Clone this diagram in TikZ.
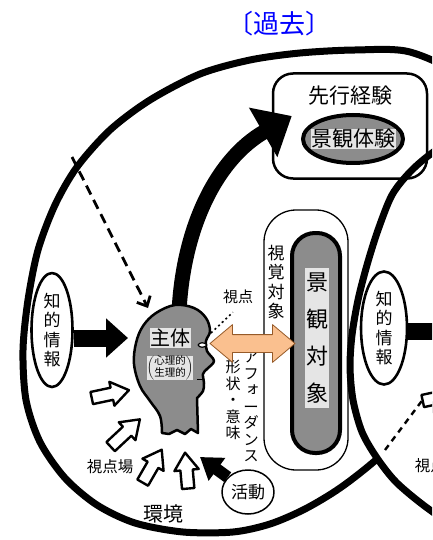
\documentclass[tikz,border=0pt]{standalone}
\usepackage{fontspec}
\setmainfont{Noto Sans CJK JP}
\newfontfamily\jpv[RawFeature=+vert]{Noto Sans CJK JP}
\usetikzlibrary{arrows.meta,shapes.geometric,shapes.arrows}

\definecolor{peach}{RGB}{250,192,143}
\definecolor{peachline}{RGB}{150,90,40}
\colorlet{screen}{black!45}
\colorlet{screenlt}{black!10}

\newcommand{\fsz}[1]{\fontsize{#1}{#1}\selectfont}
\newcommand{\chouon}{\rotatebox[origin=c]{90}{ー}}

\begin{document}
\begin{tikzpicture}[x={(1pt,0pt)},y={(0pt,-1pt)},line join=round]
\tikzstyle{v}=[align=center,inner sep=0pt]
\tikzstyle{oval}=[draw,ellipse,inner sep=0pt]
\tikzstyle{field}=[line width=7pt]
\tikzstyle{hollow}=[single arrow,draw,fill=white,line width=2.4pt,inner sep=5pt,single arrow head extend=6pt,single arrow tip angle=70,minimum height=38pt]
\useasboundingbox (0,0) rectangle (432,540);
\clip (0,0) rectangle (432,540);

% the two fields, the right one laid over the left
\draw[field] plot[smooth cycle] coordinates {(410,52) (355,50) (300,53) (250,60) (200,74) (150,100) (110,130) (77,167) (55,205) (38,250) (28,300) (23,350) (26,400) (40,442) (65,478) (97,505) (135,523) (183,532) (233,532) (270,524) (305,509) (340,488) (377,459) (430,410) (480,330) (510,230) (505,140) (465,80)};
\draw[field,fill=white] plot[smooth cycle] coordinates {(520,115) (470,128) (432,153) (410,172) (392,195) (378,230) (367,265) (358,300) (352,335) (350,367) (353,400) (362,432) (377,458) (397,483) (430,510) (470,535) (560,565) (680,450) (690,250) (600,130)};

\node[fill=white,anchor=north east,minimum width=150pt,minimum height=46pt,inner sep=0pt,text=blue,font=\fsz{26}] (kako) at (355,0) {〔過去〕};

% previous experience
\node[draw,line width=2.5pt,rounded corners=20pt,minimum width=154pt,minimum height=105pt] (senko) at (350,126) {};
\node[font=\fsz{21}] (senko-t) at (350,96) {先行経験};
\node[oval,line width=4pt,fill=screen,minimum width=100pt,minimum height=48pt] (keiken) at (353,139) {};
\node[fill=screenlt,inner sep=0.5pt,font=\fsz{21}] (keiken-t) at (keiken) {景観体験};

% visual object and landscape object
\node[draw,line width=1.3pt,rounded corners=32pt,minimum width=84pt,minimum height=260pt] (shikaku) at (306,340) {};
\node[v,font=\jpv\fontsize{17}{19.5}\selectfont] (shikaku-t) at (276,282) {視\\覚\\対\\象};
\node[draw,line width=4pt,fill=screen,rounded corners=23pt,minimum width=48pt,minimum height=220pt] (taisho) at (316,343) {};
\node[v,fill=screenlt,inner xsep=1pt,inner ysep=5pt,font=\jpv\fontsize{22}{37}\selectfont] (taisho-t) at (317,338) {景\\観\\対\\象};

% experience is stored
\coordinate (crown) at (179,312);
\draw[line width=15pt,-{Triangle[length=33pt,width=55pt]}] (crown) .. controls (183,230) and (215,160) .. ([xshift=20pt,yshift=10pt]senko.west);

% memory comes back to the subject
\coordinate (mem) at (72,157);
\coordinate (hd-tl) at (148,308);
\draw[line width=2.8pt,dash pattern=on 10pt off 6pt,-{Straight Barb[length=8pt,width=15pt]}] (mem) -- (hd-tl);

% the head
\draw[line width=2.5pt,fill=screen] plot[smooth,tension=0.6] coordinates {(162,433) (160,416) (150,401) (140,386) (134,364) (136,343) (143,326) (156,313) (175,305) (194,308) (206,318) (210,331) (206,341) (207,351) (214,361) (207,369) (203,374) (204,383) (203,391) (197,398)} -- (198,433) -- (191,429) -- (185,434) -- (177,430) -- (169,434) -- cycle;
\coordinate (eye) at (205,345);
\draw[line width=1.2pt,fill=white] (198,345) .. controls (200,342) and (204,342) .. (207,345) .. controls (204,348) and (200,348) .. (198,345);
\draw[line width=1pt] (197,379) -- (204,379);
\node[fill=screenlt,inner sep=0.5pt,font=\fsz{20}] (shutai) at (170,338) {主体};
\node[fill=screenlt,inner sep=0pt,font=\fontsize{10.5}{11}\selectfont] (shinri) at (170,368) {$\left(\begin{tabular}{@{}c@{}}心理的\\生理的\end{tabular}\right)$};

% labels round the head
\node[font=\fsz{15}] (shiten) at (238,297) {視点};
\draw[line width=1.6pt,dash pattern=on 2pt off 3pt,shorten >=7pt] ([shift={(6,-12)}]eye) -- (shiten.south);
\node[v,font=\jpv\fontsize{15}{16.5}\selectfont] (keijo) at (233,400) {形\\状\\・\\意\\味};
\node[v,font=\jpv\fontsize{15.5}{16.5}\selectfont] (afford) at (251,407) {ア\\フ\\ォ\\\chouon\\ダ\\ン\\ス};
\node[font=\fsz{15.5}] (shitenba) at (110,467) {視点場};
\node[font=\fsz{20}] (kankyo) at (163,514) {環境};

% looking at the landscape
\node[double arrow,draw=peachline,fill=peach,line width=0.8pt,inner sep=8.5pt,double arrow head extend=10pt,double arrow tip angle=80,minimum height=85pt] (look) at (252.5,343.5) {};

% knowledge
\node[oval,v,line width=2.6pt,minimum width=41pt,minimum height=114pt,font=\jpv\fontsize{17}{19.5}\selectfont] (chiteki) at (52,330) {知\\的\\情\\報};
\coordinate (hd-l) at (128,338);
\draw[line width=17pt,-{Triangle[length=22pt,width=38pt]}] (chiteki.east |- hd-l) -- (hd-l);

% surroundings
\node[hollow,rotate=12] (vp1) at (106,395) {};
\node[hollow,rotate=43,minimum height=40pt] (vp2) at (122,436) {};
\node[hollow,rotate=60] (vp3) at (150,470) {};
\node[hollow,rotate=95,minimum height=36pt] (vp4) at (187,475) {};

% activity
\node[oval,line width=1.5pt,minimum width=52pt,minimum height=44pt,font=\fsz{17}] (katsudo) at (248,492) {活動};
\coordinate (act) at (200,457);
\draw[line width=12pt,-{Triangle[length=21pt,width=27pt]}] (katsudo) -- (act);

% next field
\node[oval,v,fill=white,line width=2.6pt,minimum width=46pt,minimum height=113pt,font=\jpv\fontsize{17}{19.5}\selectfont] (chiteki2) at (384,328) {知\\的\\情\\報};
\coordinate (hd2-l) at (459,331);
\draw[line width=17pt,-{Triangle[length=22pt,width=38pt]}] (chiteki2.east |- hd2-l) -- (hd2-l);
\coordinate (mem2) at (385,450);
\node[hollow,rotate=12] (vp5) at (437,398) {};
\draw[line width=2.4pt,dash pattern=on 6pt off 5pt] (mem2) -- (vp5.tail);
\node[font=\fsz{15.5}] (shitenba2) at (438,466) {視点場};
\end{tikzpicture}
\end{document}
